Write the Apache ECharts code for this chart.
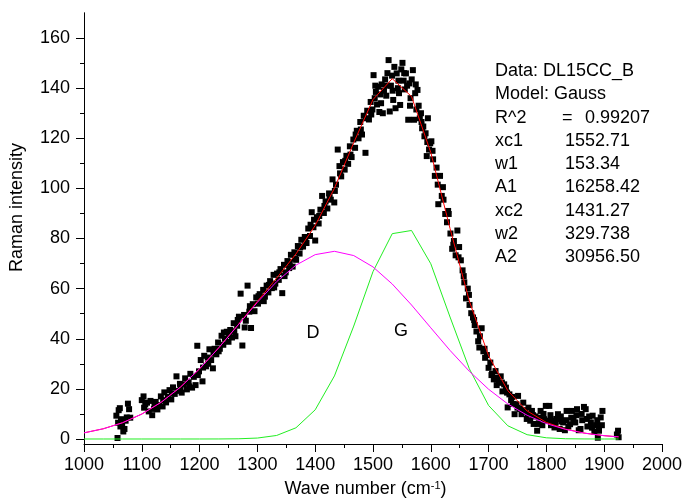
<!DOCTYPE html>
<html><head><meta charset="utf-8">
<script src="https://cdn.jsdelivr.net/npm/echarts@6/dist/echarts.min.js"></script>
<style>html,body{margin:0;padding:0;background:#fff}#c{width:685px;height:503px}</style>
</head><body><div id="c"></div><script>
// measured Raman spectrum [wave number, intensity]
const spectrum = [
[1056,9.3],[1058,0.4],[1059,6.5],[1060,11.5],[1062,12.3],[1063,5.0],[1064,7.9],[1066,5.9],[1068,3.0],[1070,4.0],[1072,7.3],[1074,8.6],[1076,14.1],[1078,11.9],[1080,8.5],
[1100,15.5],[1103,17.0],[1106,13.8],[1109,14.5],[1112,11.0],[1115,15.2],[1118,9.5],[1121,12.0],[1124,14.8],[1127,11.8],[1130,13.5],[1133,17.0],[1136,13.0],[1139,18.6],[1142,14.6],[1145,16.8],[1148,19.5],[1151,15.8],[1154,20.6],[1157,18.0],[1160,25.0],[1163,19.2],[1166,22.0],[1169,18.5],[1172,21.8],[1175,24.2],[1178,19.8],[1181,22.6],[1184,26.0],[1187,20.5],[1190,24.8],[1193,21.5],[1196,37.2],[1199,27.0],
[1202,31.5],[1205,23.0],[1208,33.2],[1211,29.0],[1214,32.5],[1217,35.8],[1220,31.5],[1223,28.2],[1226,36.0],[1229,33.8],[1232,38.5],[1235,36.0],[1238,41.2],[1241,37.6],[1244,40.0],[1247,42.8],[1250,38.8],[1253,43.5],[1256,40.5],[1259,46.2],[1262,41.0],[1265,45.2],[1268,48.8],[1271,58.0],[1274,37.3],[1277,49.5],[1280,47.2],[1283,61.2],[1286,50.8],[1289,44.3],[1292,53.8],[1295,51.0],[1298,56.5],
[1301,54.0],[1304,57.8],[1307,55.5],[1310,59.5],[1313,56.8],[1316,61.2],[1319,58.5],[1322,63.0],[1325,60.2],[1328,65.5],[1331,62.0],[1334,66.0],[1337,63.5],[1340,67.8],[1343,58.2],[1346,69.5],[1349,66.5],[1352,71.0],[1355,68.2],[1358,73.5],[1361,68.8],[1364,74.5],[1367,71.5],[1370,77.0],[1373,74.0],[1376,79.5],[1379,76.8],[1382,80.6],[1385,78.2],[1388,84.0],[1391,81.0],[1394,90.5],[1397,84.5],[1400,79.2],
[1403,88.5],[1406,86.0],[1409,91.5],[1412,97.0],[1415,90.2],[1418,94.8],[1421,92.0],[1424,98.0],[1427,95.5],[1430,103.6],[1433,94.4],[1436,101.5],[1439,115.5],[1442,108.9],[1445,104.8],[1448,110.5],[1451,107.5],[1454,113.0],[1457,109.8],[1460,116.8],[1463,112.5],[1466,119.5],[1469,116.2],[1472,123.0],[1475,120.0],[1478,126.5],[1481,121.5],[1484,129.0],[1487,114.2],[1490,131.0],[1493,127.5],[1496,134.5],[1499,131.5],
[1501,145.2],[1503,136.0],[1505,138.5],[1507,133.5],[1509,140.6],[1511,130.5],[1513,137.5],[1515,141.5],[1517,130.0],[1519,139.0],[1521,143.5],[1523,137.0],[1525,146.0],[1527,151.2],[1529,130.7],[1531,141.0],[1533,145.0],[1535,135.3],[1537,148.5],[1539,132.0],[1541,145.9],[1543,140.0],[1545,138.0],[1547,133.3],[1549,147.5],[1551,150.1],[1553,143.0],[1555,139.5],[1557,145.9],[1559,141.0],[1561,127.4],[1563,141.9],[1565,136.0],[1567,143.5],[1569,147.2],[1571,127.4],[1573,138.0],[1575,131.5],[1577,139.3],[1579,133.0],[1581,128.0],[1583,130.0],[1585,124.0],[1587,124.7],[1589,120.8],[1591,122.0],[1593,112.9],[1595,128.0],[1597,115.5],[1599,118.0],
[1601,118.8],[1604,111.6],[1607,105.0],[1610,108.3],[1613,93.7],[1616,105.0],[1619,97.0],[1622,95.5],[1625,89.8],[1628,86.5],[1631,89.8],[1634,82.0],[1637,75.9],[1640,79.0],[1643,73.3],[1646,83.2],[1649,76.6],[1652,71.3],[1655,67.3],[1658,62.5],[1661,56.1],[1664,60.0],[1667,53.5],[1670,50.2],[1673,48.5],[1676,45.5],[1679,42.9],[1682,39.0],[1685,41.0],[1688,44.2],[1691,35.0],[1694,32.4],[1697,33.5],[1700,28.4],
[1703,30.5],[1706,26.0],[1709,23.8],[1712,27.1],[1715,24.5],[1718,22.5],[1721,25.0],[1724,19.0],[1727,21.8],[1730,20.5],[1733,12.6],[1736,17.8],[1739,15.5],[1742,14.0],[1745,9.9],[1748,13.9],[1751,17.2],[1754,12.0],[1757,9.9],[1760,14.5],[1763,11.5],[1766,8.0],[1769,12.5],[1772,7.3],[1775,11.2],[1778,6.0],[1781,9.0],[1784,3.3],[1787,8.5],[1790,11.2],[1793,5.5],[1796,7.9],[1799,13.2],
[1802,7.3],[1805,13.2],[1808,5.5],[1811,7.3],[1814,4.6],[1817,8.0],[1820,9.9],[1823,4.0],[1826,7.0],[1829,6.6],[1832,3.5],[1835,11.2],[1838,5.0],[1841,5.9],[1844,11.2],[1847,8.0],[1850,6.6],[1853,11.9],[1856,3.5],[1859,4.0],[1862,7.5],[1865,12.8],[1868,11.9],[1871,5.0],[1874,9.0],[1877,6.6],[1880,9.3],[1883,3.0],[1886,5.5],[1889,0.5],[1891,3.3],[1894,8.6],[1897,11.2],
[1922,1.8],[1924,3.3],[1925,0.7]
];
// extra readings where the reference band is densest
const spectrumExtra = [
[1104,12.5],[1122,14.0],[1137,15.5],[1152,18.2],[1167,20.0],[1182,21.0],[1197,25.5],[1206,28.5],[1215,30.0],[1224,34.0],[1233,35.0],[1242,42.5],[1251,41.5],[1260,43.0],[1266,47.5],[1278,44.5],[1287,53.0],
[1302,57.0],[1311,55.0],[1320,61.5],[1329,60.5],[1338,66.5],[1347,65.0],[1356,70.5],[1365,72.0],[1374,76.5],[1383,79.0],[1392,85.5],[1398,87.5],
[1407,89.0],[1416,93.0],[1425,96.5],[1434,99.0],[1443,106.0],[1452,111.0],[1461,113.5],[1470,121.5],[1479,123.5],[1488,128.0],[1497,129.5],
[1504,141.0],[1514,134.0],[1524,141.0],[1534,139.0],[1544,143.0],[1554,146.0],[1564,133.0],[1574,141.5],[1584,126.5],[1594,118.5],
[1603,115.0],[1612,101.5],[1621,100.5],[1630,91.0],[1639,77.5],[1648,72.5],[1657,65.0],[1666,57.5],[1675,47.5],[1684,36.5],[1693,36.0],
[1705,25.5],[1714,21.5],[1723,22.5],[1732,18.5],[1741,16.8],[1750,12.5],[1759,11.0],[1768,10.0],[1777,9.5],[1786,6.0],[1795,10.0],
[1807,9.5],[1816,6.5],[1825,9.0],[1834,7.5],[1843,8.5],[1852,9.5],[1861,10.0],[1870,8.0],[1879,4.5],[1888,7.5],[1896,5.5]
];
// Gauss fit curves (sampled)
const fitX     = [1000,1033.3,1066.7,1100,1133.3,1166.7,1200,1233.3,1266.7,1300,1333.3,1366.7,1400,1433.3,1466.7,1500,1533.3,1566.7,1600,1633.3,1666.7,1700,1733.3,1766.7,1800,1833.3,1866.7,1900,1925];
const fitTotal = [2.45,4.07,6.49,9.95,14.63,20.67,28.01,36.45,45.59,54.93,64.20,73.83,85.21,100.07,118.27,135.46,143.78,136.67,114.32,84.02,55.06,33.21,19.26,11.18,6.61,3.93,2.31,1.32,0.85];
const fitD     = [2.45,4.07,6.49,9.95,14.63,20.67,28.01,36.44,45.51,54.56,62.79,69.37,73.57,74.90,73.20,68.67,61.85,53.47,44.37,35.35,27.03,19.85,13.98,9.46,6.14,3.83,2.29,1.32,0.85];
const fitG     = [0,0,0,0,0,0,0,0.01,0.08,0.37,1.41,4.46,11.64,25.17,45.07,66.79,81.94,83.21,69.94,48.67,28.03,13.37,5.27,1.72,0.47,0.10,0.02,0,0];
const yMajor = [0,20,40,60,80,100,120,140,160];
const yMinor = [10,30,50,70,90,110,130,150];
const infoLabels = ['Data: DL15CC_B','Model: Gauss','R^2','xc1','w1','A1','xc2','w2','A2'];
const infoValues = ['','','0.99207','1552.71','153.34','16258.42','1431.27','329.738','30956.50'];

const F = 'Liberation Sans, Arial, sans-serif';
const chart = echarts.init(document.getElementById('c'), null, {renderer:'canvas'});
const pair = (xs, ys) => xs.map((x, i) => [x, ys[i]]);

const graphics = [];
infoLabels.forEach((t, i) => {
  const y = 71 + i * 23.3;
  graphics.push({type:'text', x:495, y:y, style:{text:t, font:'18px ' + F, fill:'#000', verticalAlign:'middle', align:'left'}});
  if (infoValues[i]) {
    graphics.push({type:'text', x:(i === 2 ? 585 : 565), y:y, style:{text:infoValues[i], font:'18px ' + F, fill:'#000', verticalAlign:'middle', align:'left'}});
  }
});
graphics.push({type:'text', x:562, y:71 + 2 * 23.3, style:{text:'=', font:'18px ' + F, fill:'#000', verticalAlign:'middle', align:'left'}});
graphics.push({type:'text', x:313, y:333, style:{text:'D', font:'18px ' + F, fill:'#000', verticalAlign:'middle', align:'center'}});
graphics.push({type:'text', x:401, y:331, style:{text:'G', font:'18px ' + F, fill:'#000', verticalAlign:'middle', align:'center'}});

const scatterStyle = {type:'scatter', symbol:'rect', symbolSize:6, itemStyle:{color:'#000', opacity:1}, silent:true};

chart.setOption({
  animation:false,
  backgroundColor:'#fff',
  grid:{left:84, right:23, top:13, bottom:56},
  xAxis:{
    type:'value', min:1000, max:2000, interval:100,
    name:'{a|Wave number (cm}{s|-1}{a|)}', nameLocation:'middle', nameGap:36,
    nameTextStyle:{padding:[0,15,0,0], rich:{a:{fontSize:18, fontFamily:F, color:'#000'}, s:{fontSize:11, fontFamily:F, color:'#000', verticalAlign:'top'}}},
    axisLine:{show:true, onZero:false, lineStyle:{color:'#000', width:1}},
    axisTick:{show:true, length:8, lineStyle:{color:'#000', width:1}},
    minorTick:{show:true, splitNumber:2, length:4, lineStyle:{color:'#000', width:1}},
    axisLabel:{fontSize:18, fontFamily:F, color:'#000', margin:12, formatter:(v) => String(v)},
    splitLine:{show:false}, minorSplitLine:{show:false}
  },
  yAxis:[{
    type:'value', min:-2, max:170,
    name:'Raman intensity', nameLocation:'middle', nameGap:58,
    nameTextStyle:{fontSize:18, fontFamily:F, color:'#000', padding:[0,0,0,42]},
    axisLine:{show:true, onZero:false, lineStyle:{color:'#000', width:1}},
    axisTick:{show:true, length:8, customValues:yMajor, lineStyle:{color:'#000', width:1}},
    axisLabel:{customValues:yMajor, fontSize:18, fontFamily:F, color:'#000', margin:14, formatter:(v) => String(v)},
    splitLine:{show:false}
  },{
    type:'value', min:-2, max:170, position:'left',
    axisLine:{show:true, onZero:false, lineStyle:{color:'#000', width:1}},
    axisTick:{show:true, length:4, customValues:yMinor, lineStyle:{color:'#000', width:1}},
    axisLabel:{show:false},
    splitLine:{show:false}
  }],
  series:[
    Object.assign({data:spectrum}, scatterStyle),
    Object.assign({data:spectrumExtra}, scatterStyle),
    {type:'line', data:pair(fitX, fitTotal), symbol:'none', lineStyle:{color:'#ff0000', width:1}, silent:true},
    {type:'line', data:pair(fitX, fitG), symbol:'none', lineStyle:{color:'#22ee22', width:1}, silent:true},
    {type:'line', data:pair(fitX, fitD), symbol:'none', lineStyle:{color:'#ff00ff', width:1}, silent:true}
  ],
  graphic:graphics
});
</script></body></html>
